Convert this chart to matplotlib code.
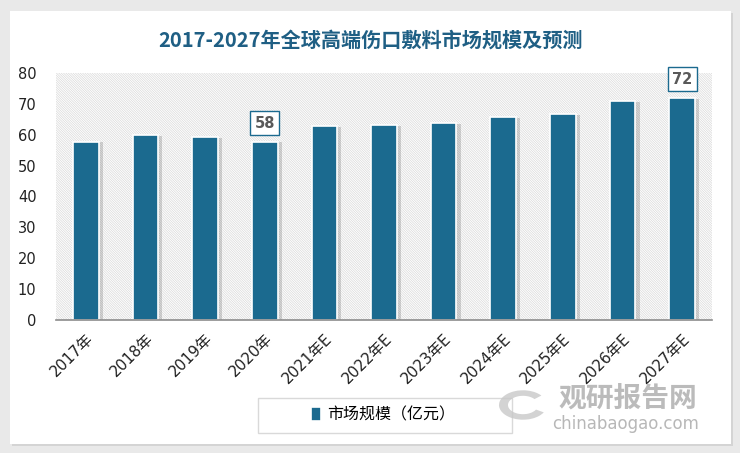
import matplotlib.pyplot as plt
from matplotlib.patches import Rectangle, Wedge
import numpy as np

plt.rcParams['font.family'] = ['DejaVu Sans', 'Noto Sans CJK SC']
plt.rcParams['hatch.linewidth'] = 0.5

# 数据
years = ['2017年', '2018年', '2019年', '2020年', '2021年E', '2022年E',
         '2023年E', '2024年E', '2025年E', '2026年E', '2027年E']
market_size = [57.8, 60.0, 59.4, 57.8, 62.9, 63.2, 63.9, 65.7, 66.8, 71.0, 72.0]
labelled = {3: '58', 10: '72'}
series_name = '市场规模（亿元）'
title = '2017-2027年全球高端伤口敷料市场规模及预测'

bar_color = '#1B6A8F'
W, H = 740, 453

fig = plt.figure(figsize=(W / 100, H / 100), dpi=100, facecolor='#e9e9e9')

# 白色卡片背景
fig.patches.append(Rectangle((12 / W, 1 - 446 / H), 721 / W, 433 / H, transform=fig.transFigure,
                             facecolor='#d4d4d4', edgecolor='none', zorder=-3))
fig.patches.append(Rectangle((10 / W, 1 - 444 / H), 721 / W, 433 / H, transform=fig.transFigure,
                             facecolor='white', edgecolor='none', zorder=-2))

ax = fig.add_axes([56 / W, 1 - 320 / H, 656 / W, 247 / H])
ax.set_facecolor('white')
ax.add_patch(Rectangle((0, 0), 1, 1, transform=ax.transAxes, facecolor='white',
                       edgecolor='#d9d9d9', hatch='\\' * 14, lw=0, zorder=0))

x = np.arange(len(years))
# 阴影
ax.bar(x + 0.07, np.array(market_size) - 0.3, width=0.43, color='black', alpha=0.15,
       zorder=1, linewidth=0)
ax.bar(x, market_size, width=0.43, color=bar_color, edgecolor='white', linewidth=1.2,
       zorder=2, label=series_name)

for i, txt in labelled.items():
    ax.text(i, market_size[i] + 6, txt, ha='center', va='center', fontsize=10.5,
            fontweight='bold', color='#595959', zorder=4,
            bbox=dict(boxstyle='square,pad=0.3', facecolor='white', edgecolor=bar_color, lw=1))

ax.set_xlim(-0.5, len(years) - 0.5)
ax.set_ylim(0, 80)
ax.set_yticks(range(0, 81, 10))
ax.set_xticks(x)
ax.set_xticklabels(years, rotation=45, ha='right', rotation_mode='anchor', fontsize=11)
ax.tick_params(axis='y', length=0, labelsize=10.5, colors='#222222', pad=14)
ax.tick_params(axis='x', length=0, colors='#222222', pad=8)
for s in ['top', 'right', 'left']:
    ax.spines[s].set_visible(False)
ax.spines['bottom'].set_color('#8c8c8c')
ax.spines['bottom'].set_linewidth(1.2)
ax.spines['bottom'].set_zorder(3)

fig.text(371 / W, 1 - 40 / H, title, ha='center', va='center', fontsize=14.5,
         fontweight='bold', color='#1F5F84', family=['Noto Sans CJK SC'])

# 图例
fig.patches.append(Rectangle((258 / W, 1 - 433 / H), 254 / W, 35 / H, transform=fig.transFigure,
                             facecolor='none', edgecolor='#d9d9d9', lw=1))
fig.legend(loc='center', bbox_to_anchor=(383 / W, 1 - 415 / H), frameon=False,
           handlelength=0.6, handleheight=1.0, handletextpad=0.4,
           prop={'family': 'Noto Sans CJK SC', 'size': 11.5})

# 水印
fig.patches.append(Wedge((523 / W, 1 - 405 / H), 24 / W, 40, 330, width=9 / W,
                         transform=fig.transFigure, facecolor='#c8c8c8', edgecolor='none', alpha=0.8))
fig.text(628 / W, 1 - 399 / H, '观研报告网', ha='center', va='center', fontsize=20,
         fontweight='bold', color='#b0b0b0', alpha=0.85, family=['Noto Sans CJK SC'])
fig.text(626 / W, 1 - 424 / H, 'chinabaogao.com', ha='center', va='center', fontsize=12,
         color='#b0b0b0', alpha=0.9)

fig.savefig('out.png', dpi=100, facecolor=fig.get_facecolor())
